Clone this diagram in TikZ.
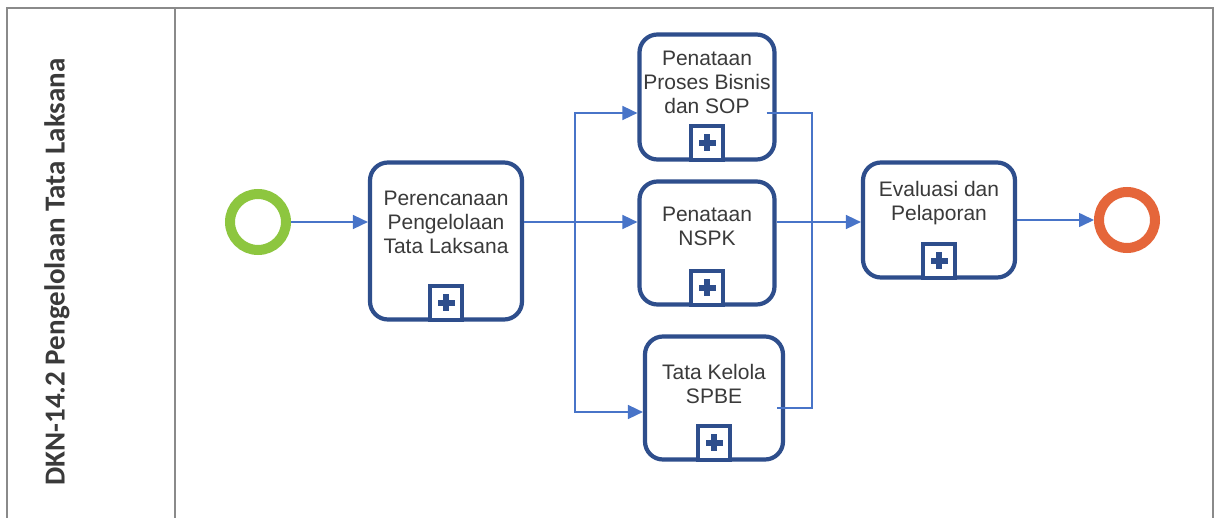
\documentclass[tikz,border=0pt]{standalone}
\usepackage{fontspec}
\setmainfont{Liberation Sans}
\newfontfamily\lanefont{Carlito}
\usetikzlibrary{arrows.meta}
\definecolor{bdr}{RGB}{46,78,140}
\definecolor{flow}{RGB}{72,116,200}
\definecolor{startc}{RGB}{141,198,63}
\definecolor{endc}{RGB}{229,102,58}
\definecolor{txt}{RGB}{58,58,58}
\definecolor{frame}{RGB}{138,138,138}
\tikzset{
  x=1pt, y=-1pt,
  task/.style={draw=bdr, line width=4.2, rounded corners=18, fill=white},
  tasktext/.style={text=txt, align=center, font=\fontsize{21}{24}\selectfont, inner sep=0},
  mk/.style={draw=bdr, line width=3.5, minimum width=32, minimum height=34, inner sep=0, fill=white, anchor=south},
  flowline/.style={draw=flow, line width=1.6},
  flowarrow/.style={flowline, -{Triangle[length=15,width=14]}},
  evt/.style={circle, line width=10, minimum size=56, inner sep=0},
}
\newcommand{\plusin}[1]{%
  \fill[bdr] ([xshift=-2.8,yshift=-8.5]#1.center) rectangle ([xshift=2.8,yshift=8.5]#1.center);
  \fill[bdr] ([xshift=-8.5,yshift=-2.8]#1.center) rectangle ([xshift=8.5,yshift=2.8]#1.center);}
\begin{document}
\begin{tikzpicture}
\useasboundingbox (0,0) rectangle (1216,517);
\fill[white] (0,0) rectangle (1216,517);
% lane frame
\draw[frame, line width=1.5] (7,530) -- (7,8) -- (1213,8) -- (1213,530);
\draw[frame, line width=1.5] (175,8) -- (175,530);
\node[rotate=90, text=txt, font=\lanefont\bfseries\fontsize{29}{30}\selectfont] (lane) at (57,272) {DKN-14.2 Pengelolaan Tata Laksana};

% events
\node[evt, draw=startc] (start) at (258,222) {};
\node[evt, draw=endc] (end) at (1127,220) {};

% tasks
\node[task, minimum width=152, minimum height=157] (perc) at (446,241) {};
\node[tasktext] (perct) at (446,222) {Perencanaan\\Pengelolaan\\Tata Laksana};
\node[mk] (perm) at (perc.south) {}; \plusin{perm}

\node[task, minimum width=135, minimum height=125] (pros) at (707,97) {};
\node[tasktext] (prost) at (707,82) {Penataan\\Proses Bisnis\\dan SOP};
\node[mk] (prom) at (pros.south) {}; \plusin{prom}

\node[task, minimum width=135, minimum height=123] (nspk) at (707,243) {};
\node[tasktext] (nspkt) at (707,226) {Penataan\\NSPK};
\node[mk] (nspm) at (nspk.south) {}; \plusin{nspm}

\node[task, minimum width=138, minimum height=123] (tata) at (714,398) {};
\node[tasktext] (tatat) at (714,384) {Tata Kelola\\SPBE};
\node[mk] (tatm) at (tata.south) {}; \plusin{tatm}

\node[task, minimum width=152, minimum height=115] (eval) at (939,220) {};
\node[tasktext] (evalt) at (939,203) {Evaluasi dan\\Pelaporan};
\node[mk] (evam) at (eval.south) {}; \plusin{evam}

% connectors
\draw[flowarrow] (start.east) -- (perc.west |- start.east);
\coordinate (split) at (575,222);
\coordinate (b1) at (575,113);
\coordinate (b2) at (575,412);
\draw[flowarrow] (perc.east |- split) -- (nspk.west |- split);
\draw[flowarrow] (split) -- (b1) -- (pros.west |- b1);
\draw[flowarrow] (split) -- (b2) -- (tata.west |- b2);
\coordinate (m1) at (812,113);
\coordinate (m2) at (812,408);
\draw[flowline] ([xshift=-10]pros.east |- m1) -- (m1) -- (m2) -- ([xshift=-8]tata.east |- m2);
\draw[flowarrow] (nspk.east |- split) -- (eval.west |- split);
\draw[flowarrow] (eval.east |- end.west) -- (end.west);
\end{tikzpicture}
\end{document}
